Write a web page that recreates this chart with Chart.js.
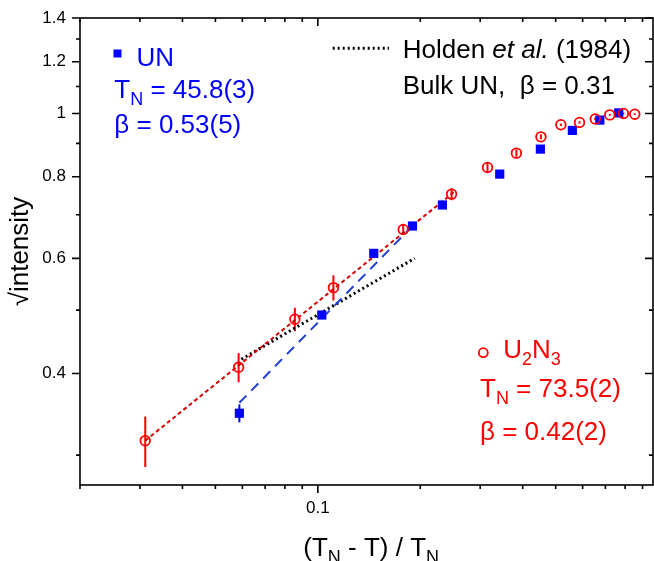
<!DOCTYPE html>
<html>
<head>
<meta charset="utf-8">
<script src="https://cdn.jsdelivr.net/npm/chart.js@4/dist/chart.umd.min.js"></script>
<style>
  body { margin: 0; background: #fff; overflow: hidden; }
  #wrap { width: 654px; height: 561px; }
</style>
</head>
<body>
<div id="wrap"><canvas id="betaChart"></canvas></div>
<script>
// U2N3, red open circles
const u2n3X = [0.0311, 0.0585, 0.0856, 0.1111, 0.1782, 0.2472, 0.3152, 0.3833, 0.4525, 0.518, 0.5875, 0.6535, 0.721, 0.791, 0.854];
const u2n3Y = [0.3157, 0.4088, 0.4842, 0.5413, 0.6646, 0.7526, 0.8267, 0.8695, 0.921, 0.961, 0.969, 0.981, 0.995, 1.0, 0.9975];
const u2n3Err = [0.028, 0.021, 0.020, 0.024, 0.013, 0.016, 0.016, 0.011, 0.008, 0.004, 0.004, 0.004, 0.003, 0.003, 0.003];

// UN, blue squares
const unX = [0.0588, 0.1027, 0.146, 0.1897, 0.2323, 0.3424, 0.4508, 0.5597, 0.674, 0.766];
const unY = [0.3477, 0.4915, 0.6108, 0.6726, 0.7243, 0.8076, 0.882, 0.942, 0.977, 1.002];
const unErr = [0.011, 0.006, 0.005, 0.005, 0.005, 0.005, 0.005, 0.005, 0.004, 0.004];

// fit lines (end points)
const u2n3FitX = [0.0311, 0.252];
const u2n3FitY = [0.3157, 0.759];
const unFitX = [0.0588, 0.1897];
const unFitY = [0.3608, 0.6726];
const holdenX = [0.0596, 0.1927];
const holdenY = [0.4206, 0.6003];

// axis ticks
const xTicks = [0.02, 0.03, 0.04, 0.05, 0.06, 0.07, 0.08, 0.09, 0.1, 0.2, 0.3, 0.4, 0.5, 0.6, 0.7, 0.8, 0.9];
const xLabels = [0.1];
const yTicks = [0.3, 0.4, 0.5, 0.6, 0.7, 0.8, 0.9, 1, 1.1, 1.2, 1.3, 1.4];
const yLabels = [0.4, 0.6, 0.8, 1, 1.2, 1.4];

const FONT = 'Arial, "Liberation Sans", sans-serif';
Chart.defaults.font.family = FONT;
Chart.defaults.color = "#000";

function toPoints(xs, ys) {
  return xs.map((x, i) => ({ x: x, y: ys[i] }));
}

function drawRich(ctx, x, y, runs, color) {
  ctx.fillStyle = color;
  ctx.textAlign = "left";
  ctx.textBaseline = "alphabetic";
  runs.forEach(([txt, kind]) => {
    const sub = kind === "s";
    ctx.font = (kind === "i" ? "italic " : "") + (sub ? 18 : 26) + "px " + FONT;
    ctx.fillText(txt, x, sub ? y + 7 : y);
    x += ctx.measureText(txt).width;
  });
}

const errorBars = {
  id: "errorBars",
  beforeDatasetsDraw(chart) {
    const ctx = chart.ctx;
    const sx = chart.scales.x, sy = chart.scales.y;
    const sets = [
      [unX, unY, unErr, "#0000ff"],
      [u2n3X, u2n3Y, u2n3Err, "#ff0000"],
    ];
    ctx.save();
    ctx.lineWidth = 2;
    sets.forEach(([xs, ys, es, col]) => {
      ctx.strokeStyle = col;
      xs.forEach((v, i) => {
        const px = sx.getPixelForValue(v);
        ctx.beginPath();
        ctx.moveTo(px, sy.getPixelForValue(ys[i] - es[i]));
        ctx.lineTo(px, sy.getPixelForValue(ys[i] + es[i]));
        ctx.stroke();
      });
    });
    ctx.restore();
  },
};

const frame = {
  id: "frame",
  afterDraw(chart) {
    const ctx = chart.ctx;
    const a = chart.chartArea;
    const sx = chart.scales.x, sy = chart.scales.y;
    ctx.save();
    ctx.strokeStyle = "#000";
    ctx.lineWidth = 1.6;
    ctx.strokeRect(a.left, a.top, a.right - a.left, a.bottom - a.top);
    ctx.beginPath();
    xTicks.forEach((v) => {
      const px = sx.getPixelForValue(v);
      const len = xLabels.includes(v) ? 8 : 4;
      ctx.moveTo(px, a.bottom);
      ctx.lineTo(px, a.bottom + len);
      ctx.moveTo(px, a.top);
      ctx.lineTo(px, a.top + len);
    });
    yTicks.forEach((v) => {
      const py = sy.getPixelForValue(v);
      const len = yLabels.includes(v) ? 8 : 4;
      ctx.moveTo(a.left - len, py);
      ctx.lineTo(a.left, py);
      ctx.moveTo(a.right - len, py);
      ctx.lineTo(a.right, py);
    });
    ctx.stroke();
    ctx.restore();
  },
};

const notes = {
  id: "notes",
  afterDraw(chart) {
    const ctx = chart.ctx;
    ctx.save();
    // UN
    ctx.fillStyle = "#0000ff";
    ctx.fillRect(113.5, 49.5, 8, 8);
    drawRich(ctx, 136.5, 65.7, [["UN", "n"]], "#0000ff");
    drawRich(ctx, 114.3, 98.3, [["T", "n"], ["N", "s"], [" = 45.8(3)", "n"]], "#0000ff");
    drawRich(ctx, 114.3, 132.7, [["\u03b2 = 0.53(5)", "n"]], "#0000ff");

    // Holden
    ctx.strokeStyle = "#000";
    ctx.lineWidth = 3;
    ctx.setLineDash([2, 3]);
    ctx.beginPath();
    ctx.moveTo(332.7, 48.3);
    ctx.lineTo(389, 48.3);
    ctx.stroke();
    ctx.setLineDash([]);
    drawRich(ctx, 402.7, 58.3, [["Holden ", "n"], ["et al.", "i"], [" (1984)", "n"]], "#000");
    drawRich(ctx, 402.7, 94, [["Bulk UN,  \u03b2 = 0.31", "n"]], "#000");

    // U2N3
    ctx.strokeStyle = "#ff0000";
    ctx.lineWidth = 1.8;
    ctx.beginPath();
    ctx.arc(483.3, 352.7, 4.5, 0, Math.PI * 2);
    ctx.stroke();
    drawRich(ctx, 503.3, 358.3, [["U", "n"], ["2", "s"], ["N", "n"], ["3", "s"]], "#ff0000");
    drawRich(ctx, 480, 396.7, [["T", "n"], ["N", "s"], [" = 73.5(2)", "n"]], "#ff0000");
    drawRich(ctx, 480, 440, [["\u03b2 = 0.42(2)", "n"]], "#ff0000");

    // x axis title
    drawRich(ctx, 303.3, 556, [["(T", "n"], ["N", "s"], [" - T) / T", "n"], ["N", "s"]], "#000");
    ctx.restore();
  },
};

new Chart(document.getElementById("betaChart"), {
  type: "scatter",
  data: {
    datasets: [
      {
        label: "U2N3",
        data: toPoints(u2n3X, u2n3Y),
        pointStyle: "circle",
        pointRadius: 4.8,
        borderWidth: 1.8,
        borderColor: "#ff0000",
        backgroundColor: "rgba(0,0,0,0)",
        order: 1,
      },
      {
        label: "UN",
        data: toPoints(unX, unY),
        pointStyle: "rect",
        pointRadius: 6.5,
        borderWidth: 0,
        backgroundColor: "#0000ff",
        borderColor: "#0000ff",
        order: 2,
      },
      {
        type: "line",
        label: "U2N3 fit",
        data: toPoints(u2n3FitX, u2n3FitY),
        borderColor: "#d80000",
        borderWidth: 2,
        borderDash: [4, 3],
        pointRadius: 0,
        order: 3,
      },
      {
        type: "line",
        label: "UN fit",
        data: toPoints(unFitX, unFitY),
        borderColor: "#1f3fd6",
        borderWidth: 2,
        borderDash: [10, 7],
        pointRadius: 0,
        order: 4,
      },
      {
        type: "line",
        label: "Holden",
        data: toPoints(holdenX, holdenY),
        borderColor: "#000",
        borderWidth: 3,
        borderDash: [2, 3],
        pointRadius: 0,
        order: 5,
      },
    ],
  },
  options: {
    responsive: true,
    maintainAspectRatio: false,
    animation: false,
    events: [],
    layout: { autoPadding: false, padding: { top: 18, right: 1, left: 0, bottom: 0 } },
    plugins: { legend: { display: false }, tooltip: { enabled: false } },
    scales: {
      x: {
        type: "logarithmic",
        min: 0.02,
        max: 0.966,
        afterBuildTicks: (s) => { s.ticks = xTicks.map((v) => ({ value: v })); },
        afterFit: (s) => { s.height = 76; s.paddingLeft = 0; s.paddingRight = 0; },
        grid: { display: false },
        border: { display: false },
        ticks: {
          autoSkip: false,
          maxRotation: 0,
          padding: 5,
          font: { size: 17 },
          callback: (v) => (xLabels.includes(v) ? String(v) : ""),
        },
      },
      y: {
        type: "logarithmic",
        min: 0.27,
        max: 1.4,
        afterBuildTicks: (s) => { s.ticks = yTicks.map((v) => ({ value: v })); },
        afterFit: (s) => { s.width = 80; s.paddingTop = 0; s.paddingBottom = 0; },
        grid: { display: false },
        border: { display: false },
        title: { display: true, text: "\u221aintensity", font: { size: 26 }, padding: { top: 5, bottom: 0 } },
        ticks: {
          autoSkip: false,
          padding: 6,
          font: { size: 17 },
          callback: (v) => (yLabels.includes(v) ? String(v) : ""),
        },
      },
    },
  },
  plugins: [errorBars, frame, notes],
});
</script>
</body>
</html>
